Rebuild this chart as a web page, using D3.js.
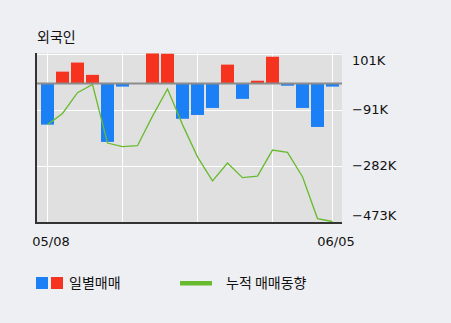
<!DOCTYPE html>
<html><head><meta charset="utf-8">
<script src="https://cdn.jsdelivr.net/npm/d3@7"></script>
<style>
html,body{margin:0;padding:0;background:#eeeff3;}
svg{display:block;}
</style></head>
<body><svg id="c" width="451" height="323"></svg>
<script>
const title = "외국인";
const dates = ["05/08","05/09","05/10","05/11","05/14","05/15","05/16","05/17","05/18","05/21",
               "05/23","05/24","05/25","05/28","05/29","05/30","05/31","06/01","06/04","06/05"];
const daily = [-142, 39, 70, 28, -201, -12, 0, 101, 100, -122, -109, -85, 63, -54, 8, 90, -9, -85, -150, -12];
const cumulative = [-142, -104, -33, -5, -205, -217, -214, -113, -20, -142, -252, -334, -273, -323, -318, -229, -237, -320, -463, -473];
const yTicks = [101, -91, -282, -473];
const yTickLabels = ["101K", "\u221291K", "\u2212282K", "\u2212473K"];
const xTickLabels = ["05/08", "06/05"];
const legendLabels = ["일별매매", "누적 매매동향"];

const svg = d3.select("#c");
const L = 36, R = 342, T = 53, B = 223;
const x = d3.scalePoint().domain(dates).range([47.5, 332.5]);
const y = d3.scaleLinear().domain([-473, 101]).range([221.5, 53.5]);
const barW = 13;
const blue = "#1b7ff5", red = "#f5331f", green = "#68bb2e";
const kr = "'Noto Sans CJK KR', sans-serif";
const num = "'DejaVu Sans', sans-serif";

svg.append("rect").attr("x", L).attr("y", T).attr("width", R - L).attr("height", B - T).attr("fill", "#e0e0e0");

// vertical grid
const vIdx = [0, 5, 10, 15, 19];
svg.selectAll(".vg").data(vIdx).enter().append("line")
  .attr("x1", d => x(dates[d])).attr("x2", d => x(dates[d]))
  .attr("y1", T).attr("y2", B).attr("stroke", "#fff").attr("stroke-width", 1);
// horizontal grid
svg.selectAll(".hg").data(yTicks).enter().append("line")
  .attr("x1", L).attr("x2", R).attr("y1", d => Math.round(y(d)) + 0.5).attr("y2", d => Math.round(y(d)) + 0.5)
  .attr("stroke", "#fff").attr("stroke-width", 1);

svg.append("clipPath").attr("id", "pc").append("rect")
  .attr("x", L).attr("y", T).attr("width", R - L).attr("height", B - T);

const g = svg.append("g").attr("clip-path", "url(#pc)");
g.selectAll(".bar").data(daily).enter().append("rect")
  .attr("x", (d, i) => x(dates[i]) - barW / 2)
  .attr("width", barW)
  .attr("y", d => d >= 0 ? y(d) : y(0))
  .attr("height", d => Math.abs(y(d) - y(0)))
  .attr("fill", d => d >= 0 ? red : blue);

// zero line
svg.append("line").attr("x1", L).attr("x2", R).attr("y1", y(0) + 0.5).attr("y2", y(0) + 0.5)
  .attr("stroke", "#8c8c8c").attr("stroke-width", 2);

// cumulative line
const line = d3.line().x((d, i) => x(dates[i])).y(d => y(d));
g.append("path").datum(cumulative).attr("d", line).attr("fill", "none")
  .attr("stroke", green).attr("stroke-width", 1.3);

// axes
svg.append("line").attr("x1", L).attr("x2", L).attr("y1", T).attr("y2", B + 1)
  .attr("stroke", "#333").attr("stroke-width", 2);
svg.append("line").attr("x1", L - 1).attr("x2", R).attr("y1", B).attr("y2", B)
  .attr("stroke", "#333").attr("stroke-width", 2);

// y labels
svg.selectAll(".yl").data(yTicks).enter().append("text")
  .attr("x", 352)
  .attr("y", d => Math.min(Math.max(y(d), 60), 215))
  .attr("dy", "0.36em")
  .attr("font-family", num).attr("font-size", 13).attr("fill", "#111")
  .text((d, i) => yTickLabels[i]);

// x labels
svg.selectAll(".xl").data([0, 19]).enter().append("text")
  .attr("x", d => x(dates[d]) + 3.5).attr("y", 246)
  .attr("text-anchor", "middle")
  .attr("font-family", num).attr("font-size", 13).attr("fill", "#111")
  .text((d, i) => xTickLabels[i]);

// title
svg.append("text").attr("x", 37).attr("y", 42).attr("font-family", kr).attr("font-size", 14)
  .attr("fill", "#111").text(title);

// legend
svg.append("rect").attr("x", 36).attr("y", 277).attr("width", 12).attr("height", 12).attr("fill", blue);
svg.append("rect").attr("x", 51).attr("y", 277).attr("width", 12).attr("height", 12).attr("fill", red);
svg.append("text").attr("x", 69).attr("y", 283).attr("dy", "0.36em").attr("font-family", kr).attr("font-size", 14)
  .attr("fill", "#111").text(legendLabels[0]);
svg.append("rect").attr("x", 180).attr("y", 281).attr("width", 32).attr("height", 4.5).attr("fill", green);
svg.append("text").attr("x", 226).attr("y", 283).attr("dy", "0.36em").attr("font-family", kr).attr("font-size", 14)
  .attr("fill", "#111").text(legendLabels[1]);
</script></body></html>
